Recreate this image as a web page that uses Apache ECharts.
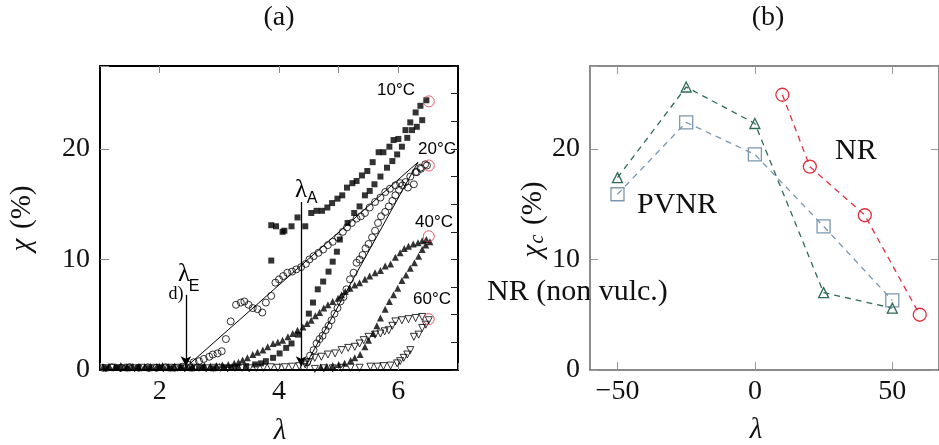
<!DOCTYPE html>
<html><head><meta charset="utf-8">
<script src="https://cdn.jsdelivr.net/npm/echarts@6/dist/echarts.min.js"></script>
<style>html,body{margin:0;padding:0;background:#fff}#c{width:939px;height:445px}</style>
</head><body><div id="c"></div>
<script>
// ---------- Panel (a): chi (%) vs lambda ----------
const xTicksA = [2, 4, 6];
const yTicksA = [0, 10, 20];
// 10 °C (filled squares) - upper branch
const t10Upper = [[3.87,13.1],[3.95,13.0],[4.06,12.5],[4.09,12.6],[4.21,13.0],[4.31,13.8],[4.44,13.0],[4.54,14.2],[4.63,14.4],[4.72,14.4],[4.81,14.7],[4.89,15.1],[4.98,15.5],[5.06,15.8],[5.14,16.5],[5.23,16.9],[5.30,17.1],[5.39,17.6],[5.48,18.0],[5.57,18.8],[5.67,19.7],[5.75,19.7],[5.85,20.2],[5.92,20.8],[6.00,20.9],[6.12,21.7],[6.20,22.4],[6.29,23.3],[6.37,23.9],[6.47,24.4]];
// 10 °C - lower branch
const t10Lower = [[3.87,9.9],[3.30,0.25],[3.45,0.35],[3.60,0.5],[3.70,0.6],[3.78,0.8],[3.90,1.1],[4.01,1.5],[4.12,2.0],[4.21,2.4],[4.32,3.2],[4.50,5.1],[4.57,6.1],[4.65,7.3],[4.74,8.0],[4.83,8.9],[4.90,9.8],[4.97,10.7],[5.02,11.8],[5.15,13.3],[5.26,14.2],[5.35,14.8],[5.44,15.8],[5.52,16.2],[5.60,16.8],[5.70,17.5],[5.81,18.3],[5.90,18.9],[5.98,19.5],[6.06,20.2],[6.15,21.0],[6.23,21.7],[6.31,22.0],[6.40,22.6]];
const base10 = [[1.10,0.15],[1.28,0.2],[1.46,0.15],[1.64,0.2],[1.82,0.15],[2.00,0.2],[2.18,0.15],[2.36,0.2],[2.54,0.15],[2.72,0.2],[2.90,0.15],[3.08,0.2],[3.20,0.2]];
// 20 °C (open circles)
const t20a = [[2.49,0.45],[2.57,0.7],[2.66,0.8],[2.74,1.0],[2.83,1.2],[2.89,1.4],[2.97,1.5],[3.04,1.7],[3.11,2.8],[3.19,4.4],[3.28,5.9],[3.36,6.1],[3.42,6.2],[3.49,5.9],[3.56,5.6],[3.64,5.5],[3.72,5.2],[3.78,6.1],[3.87,6.7],[3.94,7.9],[4.00,8.2],[4.07,8.5],[4.14,8.8],[4.22,8.9],[4.29,9.1],[4.37,9.3],[4.45,9.6],[4.51,10.0],[4.58,10.3],[4.66,10.6],[4.74,10.9],[4.82,11.3],[4.90,11.6],[4.99,12.0],[5.07,12.5],[5.14,12.9],[5.22,13.3],[5.30,13.7],[5.37,13.9],[5.44,14.2],[5.52,14.7],[5.61,15.2],[5.70,15.6],[5.78,16.1],[5.86,16.4],[5.95,16.7],[6.03,16.9],[6.12,17.0],[6.20,17.5],[6.29,17.9],[6.38,18.2],[6.48,18.5]];
const t20b = [[4.42,0.3],[4.47,0.7],[4.52,1.3],[4.58,1.8],[4.63,2.4],[4.68,2.8],[4.73,3.1],[4.78,3.6],[4.83,4.0],[4.88,4.5],[4.93,5.1],[4.98,5.6],[5.03,6.2],[5.08,6.6],[5.13,7.3],[5.19,8.2],[5.25,8.8],[5.30,9.7],[5.35,10.0],[5.40,10.4],[5.45,11.0],[5.50,11.4],[5.56,12.0],[5.61,12.6],[5.66,13.3],[5.71,13.9],[5.78,14.3],[5.84,14.8],[5.90,15.3],[5.95,15.8],[6.01,16.3],[6.07,16.7],[6.16,16.5],[6.26,16.8],[6.31,17.9],[6.37,18.3],[6.45,18.6]];
const base20 = [[1.05,0.2],[1.20,0.25],[1.35,0.2],[1.50,0.25],[1.65,0.2],[1.80,0.25],[1.95,0.2],[2.10,0.25],[2.25,0.2],[2.38,0.3]];
// 40 °C (filled triangles)
const t40a = [[3.39,0.9],[3.47,1.1],[3.56,1.4],[3.64,1.6],[3.73,1.8],[3.81,2.1],[3.90,2.4],[3.98,2.5],[4.06,2.7],[4.15,3.0],[4.23,3.3],[4.31,3.6],[4.40,3.9],[4.47,4.2],[4.54,4.5],[4.61,4.9],[4.68,5.2],[4.75,5.6],[4.82,5.9],[4.90,6.2],[4.99,6.5],[5.05,6.8],[5.11,7.1],[5.19,7.4],[5.27,7.7],[5.35,7.9],[5.44,8.2],[5.52,8.5],[5.61,8.8],[5.70,9.0],[5.78,9.4],[5.87,9.6],[5.95,10.2],[6.03,10.6],[6.10,11.0],[6.17,11.2],[6.25,11.4],[6.33,11.5],[6.40,11.7],[6.47,11.8],[6.53,11.6]];
const t40b = [[4.70,0.3],[4.80,0.35],[4.90,0.4],[5.00,0.5],[5.10,0.6],[5.20,0.85],[5.27,1.1],[5.36,1.4],[5.44,2.1],[5.50,2.7],[5.58,3.3],[5.64,4.0],[5.70,4.7],[5.78,5.5],[5.85,6.2],[5.92,6.8],[5.99,7.4],[6.06,8.1],[6.13,8.6],[6.20,9.2],[6.27,9.7],[6.34,10.3],[6.40,10.9],[6.46,11.3]];
const base40 = [[1.05,0.3],[1.15,0.35],[1.25,0.3],[1.35,0.4],[1.45,0.3],[1.55,0.35],[1.65,0.3],[1.75,0.3],[1.85,0.35],[1.95,0.3],[2.05,0.4],[2.15,0.3],[2.25,0.35],[2.35,0.3],[2.45,0.35],[2.55,0.3],[2.65,0.35],[2.75,0.4],[2.85,0.35],[2.95,0.4],[3.05,0.45],[3.15,0.5],[3.25,0.6],[3.32,0.7]];
// 60 °C (open inverted triangles)
const t60a = [[4.50,0.7],[4.60,1.1],[4.71,1.2],[4.82,1.4],[4.94,1.5],[5.05,1.8],[5.16,2.0],[5.27,2.1],[5.35,2.4],[5.42,2.7],[5.50,3.0],[5.61,3.2],[5.70,3.3],[5.77,3.5],[5.84,3.6],[5.90,4.0],[5.95,4.4],[6.06,4.5],[6.17,4.6],[6.29,4.7],[6.40,4.8],[6.51,4.5]];
const t60b = [[4.60,0.1],[4.75,0.15],[4.90,0.15],[5.05,0.2],[5.20,0.2],[5.35,0.2],[5.53,0.3],[5.65,0.3],[5.75,0.35],[5.87,0.4],[5.98,0.6],[6.03,0.8],[6.09,1.1],[6.15,1.4],[6.20,1.8],[6.26,3.0],[6.34,3.2],[6.40,3.8],[6.46,4.1]];
const base60 = [[1.10,0.15],[1.22,0.2],[1.34,0.15],[1.46,0.2],[1.58,0.15],[1.70,0.2],[1.82,0.15],[1.94,0.2],[2.06,0.15],[2.18,0.2],[2.30,0.2],[2.42,0.15],[2.54,0.2],[2.66,0.2],[2.78,0.15],[2.90,0.2],[3.02,0.2],[3.14,0.15],[3.26,0.2],[3.38,0.2],[3.50,0.15],[3.62,0.2],[3.74,0.2],[3.86,0.25],[3.98,0.2],[4.10,0.25],[4.22,0.3],[4.34,0.35],[4.44,0.5]];
// red end-point circles
const endPoints = [[6.51,24.3],[6.51,18.5],[6.51,12.1],[6.51,4.6]];
// fitted straight lines (20 °C)
const fitA = [[2.45,0.3],[6.33,18.8]];
const fitB = [[4.43,0.3],[6.33,18.8]];
// vertical arrows lambda_E and lambda_A
const arrowE = [[2.44,6.8],[2.44,0.35]];
const arrowA = [[4.37,15.2],[4.37,0.35]];
const topTicksA = [2, 4, 5, 6];
const tempLabels = ['10°C','20°C','40°C','60°C'];

// ---------- Panel (b): chi_c (%) vs lambda ----------
const xTicksB = [-50, 0, 50];
const yTicksB = [0, 10, 20];
const pvnrTri = [[-50,17.4],[-25,25.6],[0,22.3],[25,7.0],[50,5.6]];
const pvnrSq  = [[-50,15.9],[-25,22.4],[0,19.5],[25,13.0],[50,6.3]];
const nrCirc  = [[10,24.9],[20,18.4],[40,14.0],[60,5.0]];

const serif = 'Liberation Serif, Times New Roman, serif';
const sans = 'Liberation Sans, Arial, sans-serif';
const chart = echarts.init(document.getElementById('c'));

const labelFont = {fontFamily: serif, fontSize: 28, color: '#111'};
const gridA = {left: 100, top: 66, width: 358, height: 304};
const gridB = {left: 590, top: 66, width: 350, height: 304};

function scat(data, symbol, size, fill, stroke, rot) {
  return {type:'scatter', xAxisIndex:0, yAxisIndex:0, data, symbol, symbolSize:size, symbolRotate:rot||0,
    itemStyle:{color:fill, borderColor:stroke, borderWidth: fill==='transparent'?1:0}, silent:true, z:3};
}
const clear = 'transparent';

function lineB(data, symbol, size, color, rot) {
  return {type:'line', xAxisIndex:2, yAxisIndex:2, data, symbol, symbolSize:size, symbolRotate:rot||0,
    lineStyle:{color, width:1.3, type:[6,5]}, itemStyle:{color:clear, borderColor:color, borderWidth:1.3}, silent:true, animation:false};
}

function rotGroup(x, y, children) {
  return {type:'group', x, y, rotation: Math.PI/2, children};
}

const option = {
  animation: false,
  grid: [gridA, gridB],
  xAxis: [
    {gridIndex:0, type:'value', min:1, max:7, interval:1,
      axisLine:{onZero:false, lineStyle:{color:'#000', width:2}},
      axisTick:{inside:true, length:7, lineStyle:{color:'#888'}},
      axisLabel:{...labelFont, margin:8, formatter:v=> xTicksA.includes(v) ? String(v) : ''},
      splitLine:{show:false}},
    {gridIndex:0, type:'value', position:'top', min:1, max:7, interval:1,
      axisLine:{onZero:false, lineStyle:{color:'#000', width:2}},
      axisTick:{inside:true, length:7, customValues:topTicksA, lineStyle:{color:'#888'}},
      axisLabel:{show:false}, splitLine:{show:false}},
    {gridIndex:1, type:'value', min:-60, max:67, interval:10,
      axisLine:{onZero:false, lineStyle:{color:'#666', width:1.5}},
      axisTick:{inside:true, length:8, customValues:xTicksB, lineStyle:{color:'#999'}},
      axisLabel:{...labelFont, margin:8, customValues:xTicksB, formatter:v=> v<0 ? '\u2212'+Math.abs(v) : String(v)},
      splitLine:{show:false}},
    {gridIndex:1, type:'value', position:'top', min:-60, max:67, interval:10,
      axisLine:{onZero:false, lineStyle:{color:'#666', width:1.5}},
      axisTick:{inside:true, length:8, customValues:xTicksB, lineStyle:{color:'#999'}},
      axisLabel:{show:false}, splitLine:{show:false}}
  ],
  yAxis: [
    {gridIndex:0, type:'value', min:0, max:27.5, interval:10,
      axisLine:{onZero:false, lineStyle:{color:'#000', width:2}},
      axisTick:{inside:true, length:9, lineStyle:{color:'#888'}},
      axisLabel:{...labelFont, margin:10, formatter:v=> yTicksA.includes(v) ? String(v) : ''},
      splitLine:{show:false}},
    {gridIndex:0, type:'value', position:'right', min:0, max:27.5, interval:2.5,
      axisLine:{onZero:false, lineStyle:{color:'#000', width:2}},
      axisTick:{inside:true, length:7, lineStyle:{color:'#222'}},
      axisLabel:{show:false}, splitLine:{show:false}},
    {gridIndex:1, type:'value', min:0, max:27.5, interval:10,
      axisLine:{onZero:false, lineStyle:{color:'#666', width:1.5}},
      axisTick:{inside:true, length:8, lineStyle:{color:'#999'}},
      axisLabel:{...labelFont, margin:10, formatter:v=> yTicksB.includes(v) ? String(v) : ''},
      splitLine:{show:false}},
    {gridIndex:1, type:'value', position:'right', min:0, max:27.5, interval:10,
      axisLine:{onZero:false, lineStyle:{color:'#666', width:1.5}},
      axisTick:{inside:true, length:8, lineStyle:{color:'#999'}},
      axisLabel:{show:false}, splitLine:{show:false}}
  ],
  series: [
    scat(base10.concat(t10Lower), 'rect', 6, '#000', '#000'),
    scat(t10Upper, 'rect', 6, '#000', '#000'),
    scat(base20, 'circle', 7, clear, '#000'),
    scat(t20a, 'circle', 7, clear, '#000'),
    scat(t20b, 'circle', 7, clear, '#000'),
    scat(base40.concat(t40a), 'triangle', 7, '#000', '#000'),
    scat(t40b, 'triangle', 7, '#000', '#000'),
    scat(base60.concat(t60a), 'triangle', 7, clear, '#000', 180),
    scat(t60b, 'triangle', 7, clear, '#000', 180),
    scat(endPoints, 'circle', 11, clear, '#e0303f'),
    {type:'line', xAxisIndex:0, yAxisIndex:0, data:fitA, symbol:'none', lineStyle:{color:'#000', width:1}, silent:true, z:4,
      markLine:{silent:true, symbol:['none','arrow'], symbolSize:[8,10], label:{show:false},
        lineStyle:{color:'#000', width:1.3, type:'solid'},
        data:[[{coord:arrowE[0]},{coord:arrowE[1]}],[{coord:arrowA[0]},{coord:arrowA[1]}]]}},
    {type:'line', xAxisIndex:0, yAxisIndex:0, data:fitB, symbol:'none', lineStyle:{color:'#000', width:1}, silent:true, z:4},
    lineB(pvnrSq, 'rect', 13, '#7b97ae'),
    lineB(pvnrTri, 'triangle', 10, '#2e6b58'),
    lineB(nrCirc, 'circle', 13, '#e0303f')
  ],
  graphic: [
    {type:'text', x:279, y:18, style:{text:'(a)', font:'28px '+serif, fill:'#111', align:'center', verticalAlign:'middle'}},
    {type:'text', x:768, y:18, style:{text:'(b)', font:'28px '+serif, fill:'#111', align:'center', verticalAlign:'middle'}},
    {type:'text', x:280, y:431, style:{text:'λ', font:'italic 29px '+serif, fill:'#111', align:'center', verticalAlign:'middle'}},
    {type:'text', x:756, y:430, style:{text:'λ', font:'italic 29px '+serif, fill:'#111', align:'center', verticalAlign:'middle'}},
    rotGroup(22, 218, [
      {type:'text', x:-27, y:0, style:{text:'χ', font:'italic 29px '+serif, fill:'#111', align:'center', verticalAlign:'middle'}},
      {type:'text', x:-11, y:0, style:{text:'(%)', font:'29px '+serif, fill:'#111', align:'left', verticalAlign:'middle'}}
    ]),
    rotGroup(533, 216, [
      {type:'text', x:-35, y:0, style:{text:'χ', font:'italic 29px '+serif, fill:'#111', align:'center', verticalAlign:'middle'}},
      {type:'text', x:-23, y:5, style:{text:'c', font:'italic 20px '+serif, fill:'#111', align:'center', verticalAlign:'middle'}},
      {type:'text', x:-9, y:0, style:{text:'(%)', font:'29px '+serif, fill:'#111', align:'left', verticalAlign:'middle'}}
    ]),
    // lambda_E / lambda_A annotations
    {type:'text', x:184, y:274, z:10, style:{text:'λ', font:'25px '+serif, fill:'#000', align:'center', verticalAlign:'middle'}},
    {type:'text', x:194, y:287, z:10, style:{text:'E', font:'16px '+sans, fill:'#000', align:'center', verticalAlign:'middle'}},
    {type:'text', x:176, y:294, z:10, style:{text:'d)', font:'18px '+serif, fill:'#000', align:'center', verticalAlign:'middle'}},
    {type:'text', x:301, y:190, z:10, style:{text:'λ', font:'25px '+serif, fill:'#000', align:'center', verticalAlign:'middle'}},
    {type:'text', x:312, y:199, z:10, style:{text:'A', font:'16px '+sans, fill:'#000', align:'center', verticalAlign:'middle'}},
    // temperature labels
    {type:'text', x:396, y:90, z:10, style:{text:tempLabels[0], font:'17px '+sans, fill:'#000', align:'center', verticalAlign:'middle'}},
    {type:'text', x:437, y:149, z:10, style:{text:tempLabels[1], font:'17px '+sans, fill:'#000', align:'center', verticalAlign:'middle'}},
    {type:'text', x:434, y:222, z:10, style:{text:tempLabels[2], font:'17px '+sans, fill:'#000', align:'center', verticalAlign:'middle'}},
    {type:'text', x:432, y:299, z:10, style:{text:tempLabels[3], font:'17px '+sans, fill:'#000', align:'center', verticalAlign:'middle'}},
    // panel (b) labels
    {type:'text', x:835, y:151, style:{text:'NR', font:'30px '+serif, fill:'#111', align:'left', verticalAlign:'middle'}},
    {type:'text', x:637, y:205, style:{text:'PVNR', font:'30px '+serif, fill:'#111', align:'left', verticalAlign:'middle'}},
    {type:'text', x:487, y:292, style:{text:'NR (non vulc.)', font:'30px '+serif, fill:'#111', align:'left', verticalAlign:'middle'}}
  ]
};
chart.setOption(option);
</script></body></html>
